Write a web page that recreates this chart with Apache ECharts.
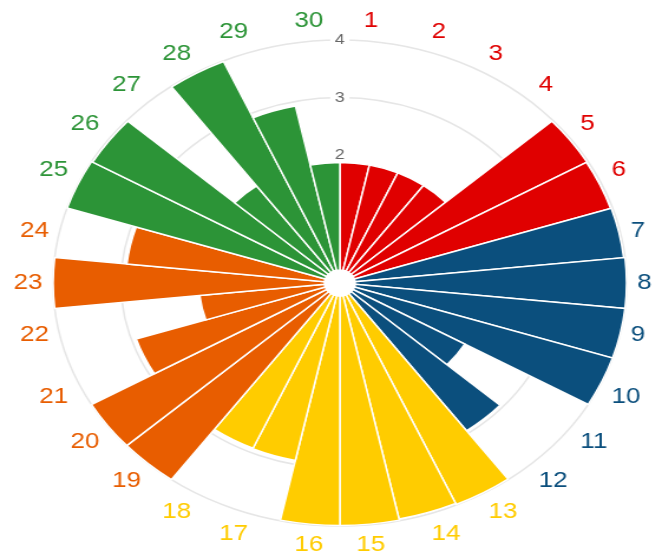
<!DOCTYPE html>
<html>
<head>
<meta charset="utf-8">
<script src="https://cdn.jsdelivr.net/npm/echarts@6/dist/echarts.min.js"></script>
<style>
  html, body { margin: 0; padding: 0; background: #fff; overflow: hidden; }
  #wrap { width: 656px; height: 556px; overflow: hidden; }
  #chart { width: 556px; height: 556px; transform: scale(1.18, 1); transform-origin: 0 0; }
</style>
</head>
<body>
<div id="wrap"><div id="chart"></div></div>
<script>
const categories = ['1','2','3','4','5','6','7','8','9','10','11','12','13','14','15',
                    '16','17','18','19','20','21','22','23','24','25','26','27','28','29','30'];
const values = [1.87, 1.87, 1.87, 1.87, 3.98, 3.97, 3.98, 4.0, 4.0, 4.0,
                1.9, 2.95, 3.99, 3.97, 3.99, 3.99, 2.93, 2.92, 4.0, 4.0,
                2.93, 1.85, 4.0, 2.93, 4.0, 3.98, 1.86, 3.99, 2.92, 1.87];
const groupColors = ['#e00000', '#0b4f7d', '#ffcc00', '#e85d00', '#2c9437'];
const groupSize = 6;
const radiusLabels = [2, 3, 4];
const gridValues = [3, 4];

function colorOf(i) { return groupColors[Math.floor(i / groupSize)]; }

const chart = echarts.init(document.getElementById('chart'), null, { renderer: 'canvas' });
chart.setOption({
  animation: false,
  backgroundColor: '#fff',
  polar: { center: [288, 283], radius: [13, 243] },
  angleAxis: {
    type: 'category',
    data: categories.map((c, i) => ({ value: c, textStyle: { color: colorOf(i) } })),
    startAngle: 90,
    clockwise: true,
    boundaryGap: true,
    axisLine: { show: false },
    axisTick: { show: false },
    splitLine: { show: false },
    axisLabel: {
      interval: 0,
      margin: 9,
      fontSize: 22,
      fontFamily: 'Liberation Sans, Arial, sans-serif'
    },
    z: 0
  },
  radiusAxis: {
    min: 0,
    max: 4,
    interval: 1,
    axisLine: { show: false },
    axisTick: { show: false },
    splitLine: {
      show: true,
      lineStyle: {
        width: 1.5,
        color: [0, 1, 2, 3, 4].map(v => gridValues.indexOf(v) >= 0 ? '#e6e6e6' : 'rgba(0,0,0,0)')
      }
    },
    axisLabel: {
      margin: 0,
      align: 'center',
      verticalAlign: 'middle',
      fontSize: 15,
      fontFamily: 'Liberation Sans, Arial, sans-serif',
      color: '#666',
      backgroundColor: '#fff',
      padding: [0, 4],
      formatter: function (v) { return radiusLabels.indexOf(v) >= 0 ? String(v) : ''; }
    },
    z: 0
  },
  series: [{
    type: 'bar',
    coordinateSystem: 'polar',
    barCategoryGap: '0%',
    data: values.map((v, i) => ({ value: v, itemStyle: { color: colorOf(i) } })),
    itemStyle: { borderColor: '#fff', borderWidth: 1.5 },
    z: 2
  }]
});
</script>
</body>
</html>
